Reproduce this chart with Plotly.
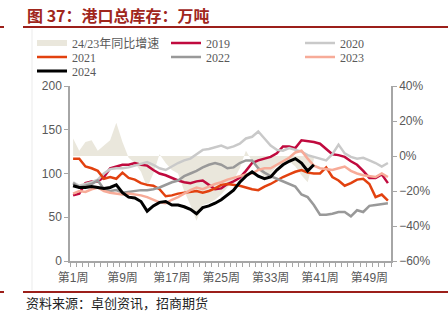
import plotly.graph_objects as go

# ---------------- data ----------------
weeks = list(range(1, 53))
tick_weeks = [1, 9, 17, 25, 33, 41, 49]
tick_labels = ["第1周", "第9周", "第17周", "第25周", "第33周", "第41周", "第49周"]

yoy_24_23 = [10, 3, 8, 9, 3, 6, 9, 19, 8, -1, -4, -9, -18, -10, 1, -4, -8, -10, -20, -28,
             -37, -28, -27, -25, -22, -18, -14, -7, 3, -3, -8, -12, -10, -6, -4, -3, -6, -11, -15, -2]

s2019 = [75, 77, 89, 91, 91, 96, 106, 108, 110, 110, 112, 110, 109, 104, 100, 98, 95, 92, 90, 89,
         91, 92, 87, 82, 83, 88, 91, 95, 103, 112, 115, 117, 119, 123, 131, 131, 129, 138, 137, 136,
         134, 128, 122, 121, 119, 114, 110, 103, 95, 95, 99, 89]
s2020 = [90, 86, 88, 90, 93, 100, 105, 106, 106, 107, 109, 111, 113, 110, 106, 104, 108, 112, 115, 117,
         122, 127, 128, 130, 132, 129, 131, 134, 140, 142, 148, 140, 132, 127, 126, 129, 127, 125, 121, 119,
         117, 115, 122, 133, 123, 119, 117, 118, 115, 112, 108, 112]
s2021 = [117, 117, 108, 106, 103, 94, 96, 94, 101, 95, 93, 89, 87, 86, 82, 74, 75, 77, 78, 79,
         80, 78, 80, 83, 87, 88, 87, 86, 84, 82, 81, 85, 88, 92, 96, 99, 102, 104, 101, 100,
         100, 107, 96, 92, 86, 89, 93, 94, 88, 73, 76, 69]
s2022 = [89, 84, 86, 88, 92, 82, 80, 81, 78, 79, 80, 81, 81, 82, 84, 87, 90, 92, 97, 100,
         103, 107, 110, 112, 110, 106, 107, 112, 115, 115, 106, 101, 97, 94, 91, 88, 85, 76, 73, 64,
         53, 53, 54, 56, 56, 51, 58, 56, 63, 64, 65, 66]
s2023 = [77, 80, 79, 82, 84, 80, 78, 77, 76, 77, 76, 75, 73, 70, 67, 66, 70, 73, 77, 81,
         84, 82, 85, 88, 90, 93, 95, 97, 99, 100, 104, 106, 106, 110, 114, 118, 124, 126, 117, 109,
         106, 105, 104, 106, 108, 103, 100, 98, 97, 96, 100, 96]
s2024 = [86, 84, 84, 85, 84, 83, 84, 87, 78, 73, 72, 68, 57, 63, 67, 68, 64, 64, 62, 59,
         54, 61, 63, 66, 70, 75, 81, 90, 97, 102, 97, 94, 96, 104, 110, 114, 117, 112, 103, 110]

# ---------------- geometry helpers (pixel -> paper) ----------------
W, H = 448, 322
ML, MR, MT, MB = 70, 57, 86, 61
PW, PH = W - ML - MR, H - MT - MB


def px(x):
    return (x - ML) / PW


def py(y):
    return (H - MB - y) / PH


LEG_FONT = dict(family="Liberation Serif, Noto Sans CJK SC", size=12, color="#595959")
TICK_FONT = dict(family="Liberation Sans, Noto Sans CJK SC", size=12, color="#595959")
AXIS_COLOR = "#A6A6A6"

fig = go.Figure()

fig.add_trace(go.Scatter(
    x=weeks[:len(yoy_24_23)], y=yoy_24_23, name="24/23年同比增速",
    mode="none", fill="tozeroy", fillcolor="#EAE7DC",
    yaxis="y", legend="legend", legendwidth=89, hoverinfo="skip"))

series = [
    ("2019", s2019, "#C00A3E", 2.5, "legend", 89),
    ("2020", s2020, "#C9C9C9", 2.5, "legend", 30),
    ("2021", s2021, "#E2410F", 2.5, "legend2", 89),
    ("2022", s2022, "#999999", 2.5, "legend2", 89),
    ("2023", s2023, "#F7AB98", 2.5, "legend2", 30),
    ("2024", s2024, "#000000", 3, "legend3", 30),
]
for name, vals, color, lw, leg, lwid in series:
    fig.add_trace(go.Scatter(
        x=weeks[:len(vals)], y=vals, name=name, mode="lines",
        line=dict(color=color, width=lw), yaxis="y2",
        legend=leg, legendwidth=lwid))

legend_common = dict(orientation="h", xanchor="left", yanchor="middle",
                     font=LEG_FONT, bgcolor="rgba(0,0,0,0)",
                     itemwidth=30, entrywidthmode="pixels", traceorder="normal")

fig.update_layout(
    width=W, height=H,
    margin=dict(l=ML, r=MR, t=MT, b=MB, autoexpand=False),
    paper_bgcolor="white", plot_bgcolor="white",
    showlegend=True,
    legend=dict(x=px(32), y=py(43), **legend_common),
    legend2=dict(x=px(32), y=py(57), **legend_common),
    legend3=dict(x=px(32), y=py(71), **legend_common),
    xaxis=dict(
        range=[0.5, 52.5], tickmode="array", tickvals=tick_weeks, ticktext=tick_labels,
        ticks="", showline=True, linecolor=AXIS_COLOR, linewidth=1.5,
        showgrid=False, zeroline=False, tickfont=TICK_FONT, ticklabelstandoff=5,
        minor=dict(tick0=0.5, dtick=1, ticks="outside", ticklen=4,
                   tickcolor=AXIS_COLOR, tickwidth=1, showgrid=False),
    ),
    yaxis=dict(
        side="right", range=[-60, 40], dtick=20, ticksuffix="%",
        showline=True, linecolor=AXIS_COLOR, linewidth=1.5,
        ticks="outside", ticklen=4, tickcolor=AXIS_COLOR,
        showgrid=False, zeroline=False, tickfont=TICK_FONT,
    ),
    yaxis2=dict(
        side="left", overlaying="y", range=[0, 200], dtick=50,
        showline=True, linecolor=AXIS_COLOR, linewidth=1.5,
        ticks="outside", ticklen=4, tickcolor=AXIS_COLOR,
        showgrid=False, zeroline=False, tickfont=TICK_FONT,
    ),
    annotations=[
        dict(text="<b>图 37：港口总库存：万吨</b>", x=px(25), y=py(15),
             xref="paper", yref="paper", xanchor="left", yanchor="middle",
             showarrow=False,
             font=dict(family="Noto Sans CJK SC", size=16, color="#A0261C")),
        dict(text="资料来源：卓创资讯，招商期货", x=px(24), y=py(302),
             xref="paper", yref="paper", xanchor="left", yanchor="middle",
             showarrow=False,
             font=dict(family="Noto Sans CJK SC", size=13, color="#222222")),
    ],
    shapes=[
        dict(type="line", xref="paper", yref="paper", x0=px(23), x1=px(448),
             y0=py(27), y1=py(27), line=dict(color="#9C1F1A", width=2)),
        dict(type="line", xref="paper", yref="paper", x0=px(0), x1=px(4),
             y0=py(27), y1=py(27), line=dict(color="#9C1F1A", width=2)),
        dict(type="line", xref="paper", yref="paper", x0=px(23), x1=px(448),
             y0=py(292), y1=py(292), line=dict(color="#9C1F1A", width=2)),
        dict(type="line", xref="paper", yref="paper", x0=px(0), x1=px(4),
             y0=py(292), y1=py(292), line=dict(color="#9C1F1A", width=2)),
        dict(type="line", xref="paper", yref="paper", x0=px(32), x1=px(32),
             y0=py(29), y1=py(290), line=dict(color="#EBEBEB", width=1)),
    ],
)

fig.write_html("out.html")
